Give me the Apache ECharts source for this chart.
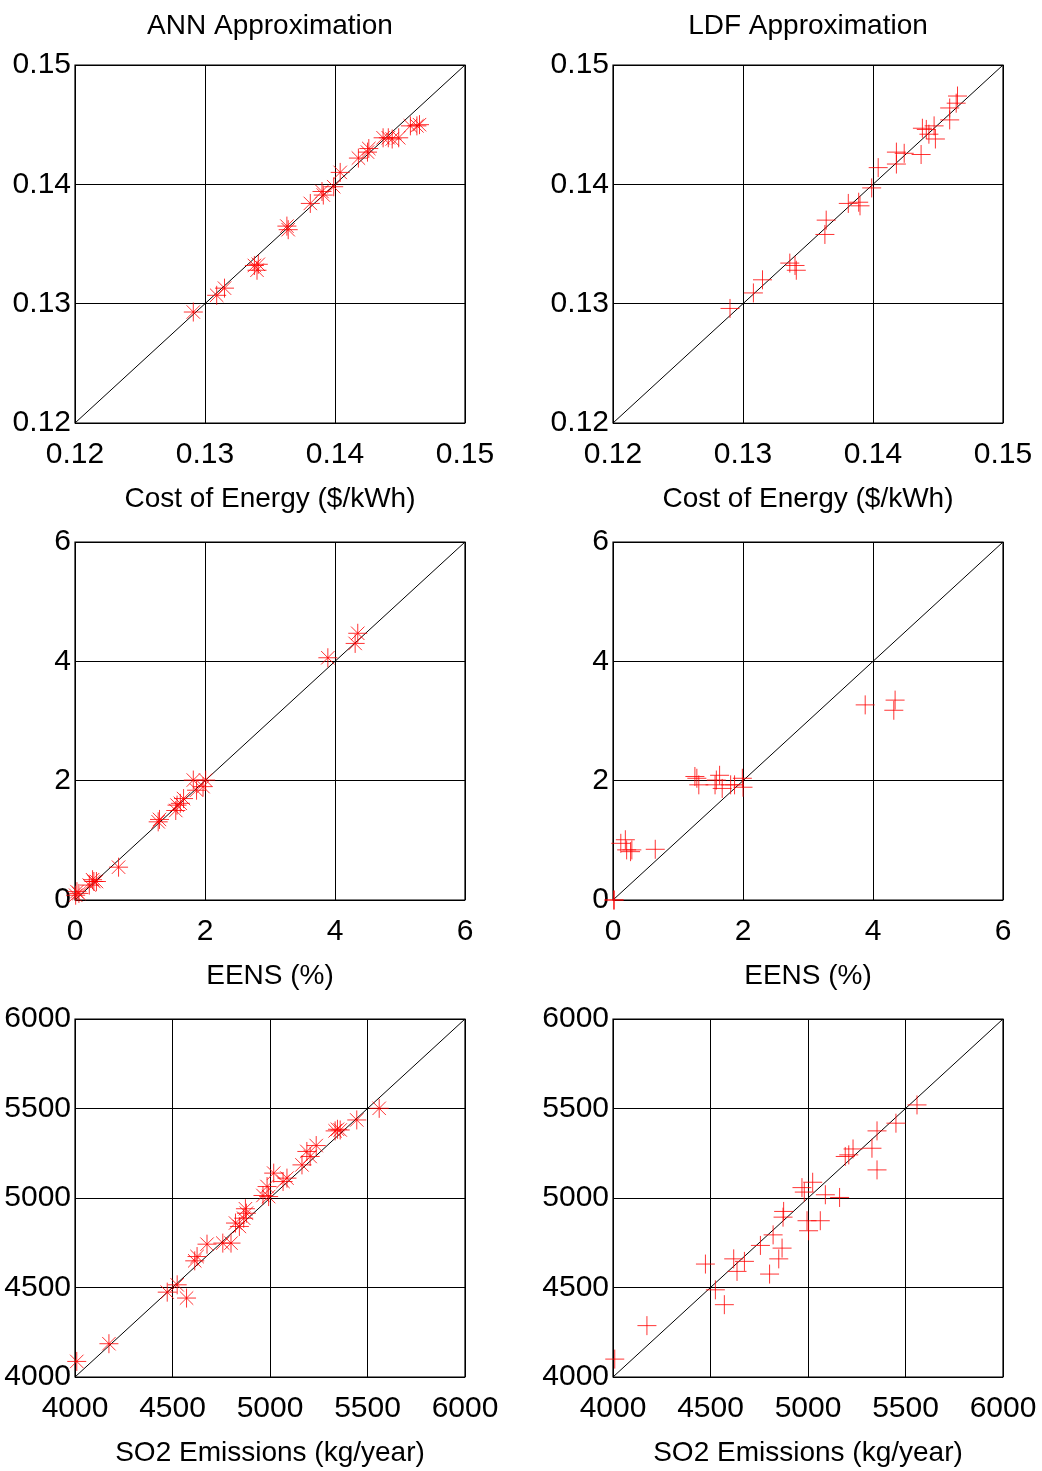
<!DOCTYPE html>
<html>
<head>
<meta charset="utf-8">
<script src="https://cdn.jsdelivr.net/npm/echarts@6/dist/echarts.min.js"></script>
<style>
  html, body { margin: 0; padding: 0; background: #fff; }
  #chart { width: 1042px; height: 1471px; }
</style>
</head>
<body>
<div id="chart"></div>
<script>
// axis limits / ticks
const costLimits = [0.12, 0.15];
const eensLimits = [0, 6];
const so2Limits = [4000, 6000];

// ANN - cost of energy
const annCostX = [0.1291,0.1309,0.1315,0.1338,0.1341,0.1340,0.1363,0.1364,0.1381,0.1390,0.1391,0.1399,0.1404,0.1418,0.1425,0.1426,0.1437,0.1441,0.1444,0.1449,0.1458,0.1463,0.1465];
const annCostY = [0.1293,0.1307,0.1313,0.1332,0.1333,0.1328,0.1365,0.1362,0.1384,0.1394,0.1391,0.1398,0.1410,0.1422,0.1427,0.1430,0.1439,0.1439,0.1438,0.1439,0.1449,0.1449,0.1450];
// LDF - cost of energy
const ldfCostX = [0.1290,0.1308,0.1315,0.1336,0.1340,0.1341,0.1363,0.1364,0.1381,0.1389,0.1390,0.1399,0.1404,0.1418,0.1418,0.1424,0.1437,0.1438,0.1441,0.1443,0.1448,0.1447,0.1459,0.1459,0.1464,0.1465];
const ldfCostY = [0.1296,0.1309,0.1320,0.1334,0.1332,0.1328,0.1358,0.1370,0.1384,0.1385,0.1382,0.1397,0.1414,0.1417,0.1427,0.1426,0.1425,0.1447,0.1446,0.1442,0.1438,0.1449,0.1464,0.1454,0.1468,0.1474];
// ANN - EENS
const annEensX = [0.01,0.03,0.06,0.22,0.27,0.29,0.33,0.67,1.28,1.30,1.55,1.57,1.62,1.67,1.82,1.87,1.97,2.01,3.89,4.31,4.35];
const annEensY = [0.08,0.14,0.11,0.25,0.34,0.31,0.31,0.55,1.31,1.35,1.50,1.59,1.62,1.70,2.01,1.84,1.90,2.01,4.06,4.30,4.47];
// LDF - EENS
const ldfEensX = [0.01,0.02,0.12,0.19,0.21,0.27,0.29,0.65,1.26,1.29,1.32,1.57,1.59,1.64,1.68,1.81,1.87,1.99,2.00,3.88,4.32,4.34];
const ldfEensY = [0.00,0.00,0.95,1.01,0.84,0.81,0.84,0.85,2.07,2.04,1.93,1.93,2.01,2.09,1.87,1.93,1.93,2.04,1.89,3.27,3.18,3.35];
// ANN - SO2
const annSo2X = [4009,4174,4473,4524,4572,4614,4626,4677,4758,4800,4823,4843,4865,4874,4879,4964,4985,4993,5019,5067,5087,5164,5189,5206,5237,5334,5346,5360,5445,5560];
const annSo2Y = [4087,4186,4474,4515,4441,4649,4673,4742,4748,4748,4860,4841,4887,4940,4915,5014,5064,5008,5139,5092,5111,5185,5260,5232,5293,5375,5384,5380,5436,5501];
// LDF - SO2
const ldfSo2X = [4009,4174,4474,4525,4571,4619,4636,4674,4756,4803,4821,4850,4867,4872,4875,4969,4981,4995,5003,5024,5063,5089,5162,5191,5209,5231,5328,5354,5354,5451,5559];
const ldfSo2Y = [4100,4287,4631,4487,4404,4660,4590,4646,4735,4575,4794,4660,4720,4893,4925,5058,5033,4873,4817,5088,4873,5018,5003,5232,5241,5274,5278,5375,5157,5418,5520];

const titles = ['ANN Approximation', 'LDF Approximation'];
const xNames = ['Cost of Energy ($/kWh)', 'EENS (%)', 'SO2 Emissions (kg/year)'];

const FONT = "'Liberation Sans', Arial, sans-serif";
const STAR = 'path://M10,0L10,20M0,10L20,10M2.93,2.93L17.07,17.07M17.07,2.93L2.93,17.07';
const PLUS = 'path://M10,0L10,20M0,10L20,10';

const panels = [
  { x: annCostX, y: annCostY, lim: costLimits, step: 0.01, sym: STAR, row: 0, col: 0 },
  { x: ldfCostX, y: ldfCostY, lim: costLimits, step: 0.01, sym: PLUS, row: 0, col: 1 },
  { x: annEensX, y: annEensY, lim: eensLimits, step: 2, sym: STAR, row: 1, col: 0 },
  { x: ldfEensX, y: ldfEensY, lim: eensLimits, step: 2, sym: PLUS, row: 1, col: 1 },
  { x: annSo2X, y: annSo2Y, lim: so2Limits, step: 500, sym: STAR, row: 2, col: 0 },
  { x: ldfSo2X, y: ldfSo2Y, lim: so2Limits, step: 500, sym: PLUS, row: 2, col: 1 }
];

const lefts = [75, 613];
const tops = [65, 542, 1019];

// plain numbers, no thousands separator
function fmt(v) {
  return String(Math.round(v * 10000) / 10000);
}

let grid = [], xAxis = [], yAxis = [], series = [];
panels.forEach((p, i) => {
  grid.push({
    left: lefts[p.col], top: tops[p.row], width: 390, height: 358,
    outerBoundsMode: 'none', containLabel: false,
    show: true, borderColor: '#000', borderWidth: 1.2, backgroundColor: '#fff'
  });
  const common = {
    gridIndex: i, type: 'value', min: p.lim[0], max: p.lim[1], interval: p.step,
    axisLine: { show: false },
    axisTick: { show: false },
    splitLine: { show: true, lineStyle: { color: '#000', width: 1 } },
    axisLabel: { color: '#000', fontSize: 30, fontFamily: FONT, formatter: fmt }
  };
  xAxis.push(Object.assign({}, common, {
    axisLabel: Object.assign({}, common.axisLabel, { margin: 17 }),
    name: xNames[p.row], nameLocation: 'middle', nameGap: 62,
    nameTextStyle: { color: '#000', fontSize: 28, fontFamily: FONT }
  }));
  yAxis.push(Object.assign({}, common, {
    axisLabel: Object.assign({}, common.axisLabel, { margin: 4 })
  }));
  series.push({
    type: 'line', xAxisIndex: i, yAxisIndex: i, silent: true,
    data: [[p.lim[0], p.lim[0]], [p.lim[1], p.lim[1]]],
    symbol: 'none', lineStyle: { color: '#000', width: 1 }, z: 2
  });
  series.push({
    type: 'scatter', xAxisIndex: i, yAxisIndex: i, clip: false,
    data: p.x.map((v, k) => [v, p.y[k]]),
    symbol: p.sym, symbolSize: 19,
    itemStyle: { color: 'none', borderColor: '#ff0000', borderWidth: 1 }, z: 3
  });
});

const chart = echarts.init(document.getElementById('chart'), null, { renderer: 'canvas' });
chart.setOption({
  animation: false,
  backgroundColor: '#fff',
  title: titles.map((t, k) => ({
    text: t, left: lefts[k] + 195, top: 12, textAlign: 'center', padding: 0,
    textStyle: { color: '#000', fontSize: 28, fontWeight: 'normal', fontFamily: FONT }
  })),
  grid: grid,
  xAxis: xAxis,
  yAxis: yAxis,
  series: series
});
</script>
</body>
</html>
